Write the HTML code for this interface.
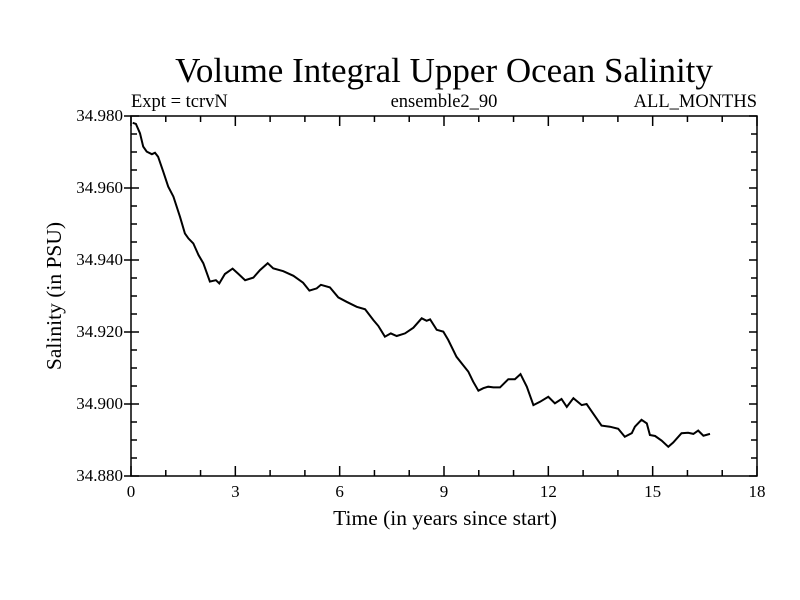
<!DOCTYPE html>
<html><head><meta charset="utf-8"><style>
body{margin:0;background:#fff}
svg{display:block;font-family:"Liberation Serif",serif}
</style></head><body>
<svg id="chart" width="800" height="600" viewBox="0 0 800 600">
<rect width="800" height="600" fill="#fff"/>
<text x="444" y="82" font-size="35" text-anchor="middle">Volume Integral Upper Ocean Salinity</text>
<text x="131" y="107" font-size="18.5">Expt = tcrvN</text>
<text x="444" y="107" font-size="18.5" text-anchor="middle">ensemble2_90</text>
<text x="757" y="107" font-size="18.5" text-anchor="end">ALL_MONTHS</text>
<rect x="131" y="116" width="626" height="360" fill="none" stroke="#000" stroke-width="1.5"/>
<g id="ticks"></g>
<path id="line" fill="none" stroke="#000" stroke-width="2"/>
<text x="445" y="525" font-size="21.5" text-anchor="middle">Time (in years since start)</text>
<text transform="translate(61,296) rotate(-90)" font-size="21.5" text-anchor="middle">Salinity (in PSU)</text>
</svg>
<script>
const years = [0.05,0.14,0.26,0.35,0.45,0.60,0.69,0.78,0.93,1.07,1.22,1.41,1.55,1.65,1.79,1.94,2.08,2.27,2.44,2.54,2.70,2.92,3.09,3.28,3.52,3.71,3.93,4.09,4.38,4.67,4.95,5.13,5.34,5.46,5.72,5.96,6.20,6.49,6.73,6.97,7.11,7.30,7.47,7.64,7.88,8.12,8.36,8.50,8.60,8.79,8.98,9.12,9.36,9.55,9.70,9.84,9.99,10.13,10.27,10.42,10.61,10.85,11.04,11.20,11.38,11.57,11.76,12.00,12.19,12.38,12.53,12.72,12.96,13.10,13.25,13.53,13.77,14.01,14.20,14.40,14.49,14.68,14.83,14.92,15.07,15.26,15.45,15.59,15.83,16.02,16.17,16.31,16.46,16.65];
const salinity = [34.9781,34.9778,34.9752,34.9715,34.9701,34.9694,34.9698,34.9687,34.9645,34.9604,34.9576,34.9520,34.9474,34.9460,34.9446,34.9414,34.9391,34.9340,34.9344,34.9335,34.9361,34.9376,34.9361,34.9344,34.9351,34.9372,34.9391,34.9377,34.9369,34.9356,34.9337,34.9315,34.9321,34.9331,34.9324,34.9296,34.9284,34.9270,34.9263,34.9233,34.9217,34.9187,34.9196,34.9189,34.9196,34.9212,34.9238,34.9231,34.9235,34.9206,34.9201,34.9178,34.9131,34.9108,34.9090,34.9062,34.9037,34.9044,34.9048,34.9046,34.9046,34.9069,34.9069,34.9083,34.9048,34.8997,34.9006,34.9020,34.9002,34.9014,34.8992,34.9016,34.8997,34.9000,34.8979,34.8940,34.8937,34.8931,34.8909,34.8919,34.8937,34.8956,34.8946,34.8914,34.8911,34.8898,34.8881,34.8893,34.8919,34.8920,34.8917,34.8926,34.8912,34.8917];
const xTickLabels = ["0","3","6","9","12","15","18"];
const yTickLabels = ["34.880","34.900","34.920","34.940","34.960","34.980"];
const X0=131,X1=757,Y0=476,Y1=116;
function xs(t){return X0+(t-0)/(18-0)*(X1-X0);}
function ys(v){return Y0-(v-34.88)/(0.1)*(Y0-Y1);}
const NS="http://www.w3.org/2000/svg";
const g=document.getElementById('ticks');
function ln(x1,y1,x2,y2){const l=document.createElementNS(NS,'line');l.setAttribute('x1',x1);l.setAttribute('y1',y1);l.setAttribute('x2',x2);l.setAttribute('y2',y2);l.setAttribute('stroke','#000');l.setAttribute('stroke-width','1.5');


g.appendChild(l);}
for(let t=0;t<=18;t++){const x=xs(t);const L=t%3===0?10:6;ln(x,Y0,x,Y0-L);ln(x,Y1,x,Y1+L);}
for(let i=0;i<=20;i++){const v=34.88+i*0.005;const y=ys(v);const major=i%4===0;
 if(major){ln(X0-7,y,X0+8,y);ln(X1-8,y,X1,y);}else{ln(X0,y,X0+6,y);ln(X1-6,y,X1,y);}}
xTickLabels.forEach((s,i)=>{const t=document.createElementNS(NS,'text');t.setAttribute('x',xs(i*3));t.setAttribute('y',497);t.setAttribute('font-size','17');t.setAttribute('text-anchor','middle');t.textContent=s;


g.appendChild(t);});
yTickLabels.forEach((s,i)=>{const t=document.createElementNS(NS,'text');t.setAttribute('x',123);t.setAttribute('y',ys(34.88+i*0.02)+5);t.setAttribute('font-size','17');t.setAttribute('text-anchor','end');t.textContent=s;


g.appendChild(t);});
document.getElementById('line').setAttribute('d',years.map((t,i)=>(i?'L':'M')+xs(t).toFixed(1)+','+ys(salinity[i]).toFixed(1)).join(' '));
</script>
</body></html>
